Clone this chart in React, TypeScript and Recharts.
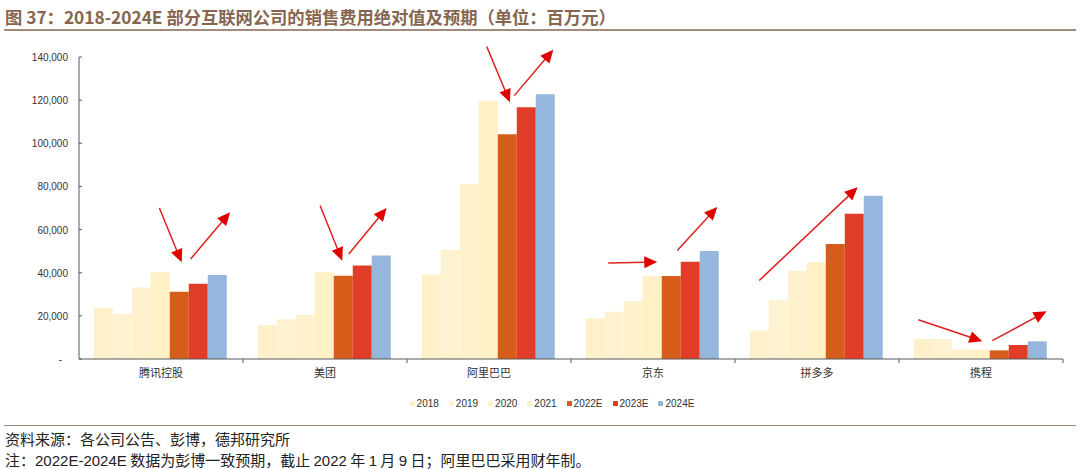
import { Bar, BarChart, Legend, ReferenceLine, XAxis, YAxis } from 'recharts'

const categories = ['腾讯控股', '美团', '阿里巴巴', '京东', '拼多多', '携程']
const years = ['2018', '2019', '2020', '2021', '2022E', '2023E', '2024E']

const s2018 = [23800, 15800, 39300, 18900, 13100, 9300]
const s2019 = [20900, 18400, 50500, 21900, 27200, 9300]
const s2020 = [33200, 20400, 81100, 26900, 40900, 4300]
const s2021 = [40200, 40200, 119600, 38500, 44800, 4300]
const s2022E = [31200, 38600, 104200, 38500, 53300, 4000]
const s2023E = [34900, 43400, 116700, 45100, 67300, 6500]
const s2024E = [38900, 48000, 122700, 50100, 75700, 8200]

const yTicks = [0, 20000, 40000, 60000, 80000, 100000, 120000, 140000]
const posTicks = [0, 1, 2, 3, 4, 5, 6]

// annotation arrows: [from x (category units), from value, to x, to value]
const arrows: [number, number, number, number][] = [
  [0.49, 70000, 0.626, 44800],
  [0.681, 46400, 0.921, 68000],
  [1.47, 71200, 1.605, 45600],
  [1.645, 48700, 1.876, 70000],
  [2.486, 144900, 2.628, 119000],
  [2.654, 122100, 2.892, 143400],
  [3.227, 44500, 3.526, 45000],
  [3.648, 50300, 3.892, 70500],
  [4.148, 36400, 4.748, 79600],
  [5.118, 18200, 5.508, 8200],
  [5.569, 8500, 5.9, 22100],
]

const seriesValues = [s2018, s2019, s2020, s2021, s2022E, s2023E, s2024E]
const COLORS = ['#FEF0C8', '#FFF2D0', '#FEF1CB', '#FFF0C6', '#D55C19', '#E03C28', '#95B7DE']

const data = categories.map((name, i) => {
  const row: Record<string, string | number> = { name, pos: i + 0.5 }
  years.forEach((y, k) => {
    row[y] = seriesValues[k][i]
  })
  return row
})

const W = 1080
const MARGIN = { top: 57, right: 17, left: 8, bottom: 31 }
const Y_W = 71
const BAND = (W - MARGIN.left - MARGIN.right - Y_W) / categories.length
const AXIS = '#595959'
const LATIN = "'Liberation Sans', Arial, sans-serif"

function CategoryTick(props: any) {
  const { x, y, payload } = props
  return (
    <g>
      <line x1={x + BAND / 2} y1={y - 8} x2={x + BAND / 2} y2={y - 4} stroke={AXIS} />
      <text
        x={x}
        y={y + 10}
        textAnchor="middle"
        fontSize={11}
        fill="#333"
        fontFamily="'Noto Sans CJK SC', sans-serif"
      >
        {payload.value}
      </text>
    </g>
  )
}

function ValueTick(props: any) {
  const { x, y, payload } = props
  const zero = payload.value === 0
  return (
    <text x={zero ? x - 6 : x} y={y + 4} textAnchor="end" fontSize={10} fill="#333" fontFamily={LATIN}>
      {zero ? '-' : payload.value.toLocaleString('en-US')}
    </text>
  )
}

function Arrow(props: any) {
  const { x1, y1, x2, y2 } = props
  if ([x1, y1, x2, y2].some((v) => typeof v !== 'number' || isNaN(v))) return null
  const dx = x2 - x1
  const dy = y2 - y1
  const len = Math.hypot(dx, dy) || 1
  const ux = dx / len
  const uy = dy / len
  const hl = 13
  const hw = 6
  const bx = x2 - ux * hl
  const by = y2 - uy * hl
  return (
    <g>
      <line x1={x1} y1={y1} x2={bx + ux * 2} y2={by + uy * 2} stroke="#E02020" strokeWidth={1.5} />
      <polygon
        points={`${x2},${y2} ${bx - uy * hw},${by + ux * hw} ${bx + uy * hw},${by - ux * hw}`}
        fill="#E00000"
      />
    </g>
  )
}

function LegendContent() {
  return (
    <div
      style={{
        display: 'flex',
        justifyContent: 'center',
        fontFamily: LATIN,
        fontSize: 10,
        color: '#333',
        marginLeft: 43,
      }}
    >
      {years.map((y, k) => (
        <span key={y} style={{ display: 'flex', alignItems: 'center', marginRight: 10 }}>
          <span style={{ width: 5, height: 5, background: COLORS[k], marginRight: 2 }} />
          {y}
        </span>
      ))}
    </div>
  )
}

export default function App() {
  return (
    <div
      style={{
        position: 'absolute',
        left: 0,
        top: 0,
        width: W,
        height: 469,
        background: '#fff',
        overflow: 'hidden',
      }}
    >
      <div
        style={{
          position: 'absolute',
          left: 5,
          top: 4,
          fontFamily: "'Noto Sans CJK SC', sans-serif",
          fontWeight: 700,
          fontSize: 17.3,
          color: '#86664F',
          whiteSpace: 'nowrap',
        }}
      >
        图 37：2018-2024E 部分互联网公司的销售费用绝对值及预期（单位：百万元）
      </div>
      <div style={{ position: 'absolute', left: 4, top: 29, width: 1072, height: 2, background: '#A38C7E' }} />

      <div style={{ position: 'absolute', left: 0, top: 0 }}>
        <BarChart width={W} height={420} data={data} margin={MARGIN} barCategoryGap="9%" barGap={0}>
          <XAxis
            dataKey="name"
            tick={<CategoryTick />}
            tickLine={false}
            axisLine={{ stroke: AXIS }}
            height={30}
            interval={0}
          />
          <XAxis
            xAxisId="n"
            dataKey="pos"
            type="number"
            scale="linear"
            domain={[0, 6]}
            ticks={posTicks}
            allowDataOverflow
            hide
          />
          <YAxis
            width={Y_W}
            domain={[0, 140000]}
            ticks={yTicks}
            tick={<ValueTick />}
            tickSize={-3}
            tickMargin={14}
            tickLine={{ stroke: AXIS }}
            axisLine={{ stroke: AXIS }}
          />
          <Legend
            layout="horizontal"
            verticalAlign="middle"
            align="center"
            wrapperStyle={{ top: 398 }}
            content={<LegendContent />}
          />
          {years.map((y, k) => (
            <Bar key={y} dataKey={y} fill={COLORS[k]} isAnimationActive={false} />
          ))}
          {arrows.map((a, i) => (
            <ReferenceLine
              key={i}
              xAxisId="n"
              ifOverflow="visible"
              segment={[
                { x: a[0], y: a[1] },
                { x: a[2], y: a[3] },
              ]}
              shape={(p: any) => <Arrow {...p} />}
            />
          ))}
        </BarChart>
      </div>

      <div style={{ position: 'absolute', left: 4, top: 425, width: 1072, height: 1, background: '#A38C7E' }} />
      <div
        style={{
          position: 'absolute',
          left: 5,
          top: 428,
          fontFamily: "'Noto Sans CJK SC', sans-serif",
          fontSize: 15,
          color: '#222',
          lineHeight: '21px',
          whiteSpace: 'nowrap',
        }}
      >
        <div>资料来源：各公司公告、彭博，德邦研究所</div>
        <div>
          注：<span style={{ fontFamily: LATIN }}>2022E-2024E</span> 数据为彭博一致预期，截止{' '}
          <span style={{ fontFamily: LATIN }}>2022</span> 年 <span style={{ fontFamily: LATIN }}>1</span> 月{' '}
          <span style={{ fontFamily: LATIN }}>9</span> 日；阿里巴巴采用财年制。
        </div>
      </div>
    </div>
  )
}
